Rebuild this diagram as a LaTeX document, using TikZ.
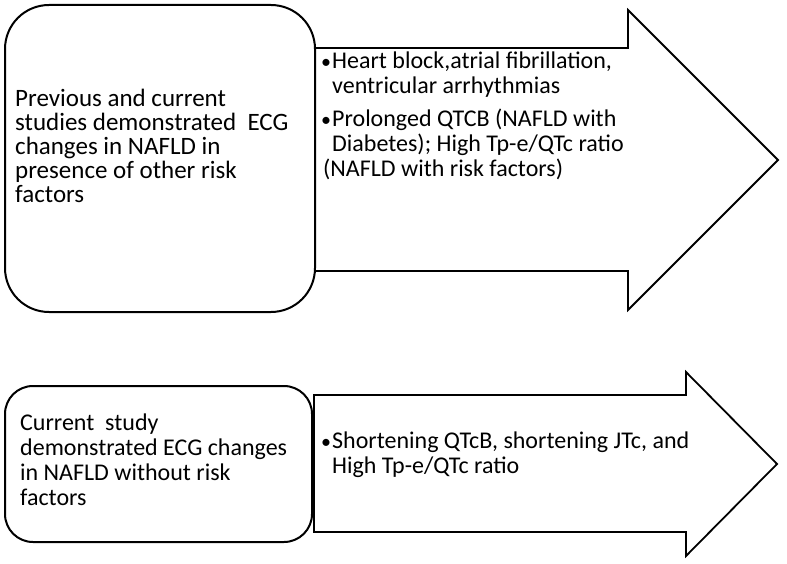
\documentclass[tikz,border=0pt]{standalone}
\usepackage{fontspec}
\setmainfont{Carlito}
\begin{document}
\begin{tikzpicture}[x=1pt,y=-1pt,
  roundbox/.style={draw, line width=2pt, rounded corners=#1, fill=white, inner sep=0pt},
  bigarrow/.style={draw, line width=1.8pt, line join=miter, fill=white},
  txt/.style 2 args={anchor=base west, inner sep=0pt, align=left, font=\fontsize{#1}{#2}\selectfont},
  bul/.style={txt={24}{25}},
  dot/.code={}
]
\newcommand{\bulletmark}{\makebox[12pt][l]{\hspace*{1pt}{\fontsize{20}{20}\selectfont •}}}
\useasboundingbox (0,0) rectangle (787,564);
% arrows
\coordinate (a1s) at (314,48);
\draw[bigarrow] (a1s) -- (628,48) -- (628,10) -- (778,160) -- (628,310) -- (628,271) -- (314,271) -- cycle;
\coordinate (a2s) at (314,395);
\draw[bigarrow] (a2s) -- (686,395) -- (686,372) -- (777,464) -- (686,556) -- (686,532) -- (314,532) -- cycle;
% boxes
\node[roundbox=44pt, minimum width=310pt, minimum height=307pt] (box1) at (160,158.5) {};
\node[roundbox=28pt, minimum width=307pt, minimum height=156pt] (box2) at (158.5,464) {};
% box texts (anchored at the baseline of the last line)
\node[txt={25}{24}] (t1) at (15,203) {Previous and current\\studies demonstrated\ \ ECG\\changes in NAFLD in\\presence of other risk\\factors};
\node[txt={24}{25}] (t2) at (20,505.5) {Current\ \ study\\demonstrated ECG changes\\in NAFLD without risk\\factors};
% arrow texts
\node[bul] (b1) at (320,94) {\bulletmark Heart block,atrial fibrillation,\\\hspace*{12pt}ventricular arrhythmias};
\node[bul] (b2) at (320,177) {\bulletmark Prolonged QTCB (NAFLD with\\\hspace*{12pt}Diabetes); High Tp-e/QTc ratio\\\hspace*{3pt}(NAFLD with risk factors)};
\node[bul] (b3) at (320,473) {\bulletmark Shortening QTcB, shortening JTc, and\\\hspace*{12pt}High Tp-e/QTc ratio};
\end{tikzpicture}
\end{document}
